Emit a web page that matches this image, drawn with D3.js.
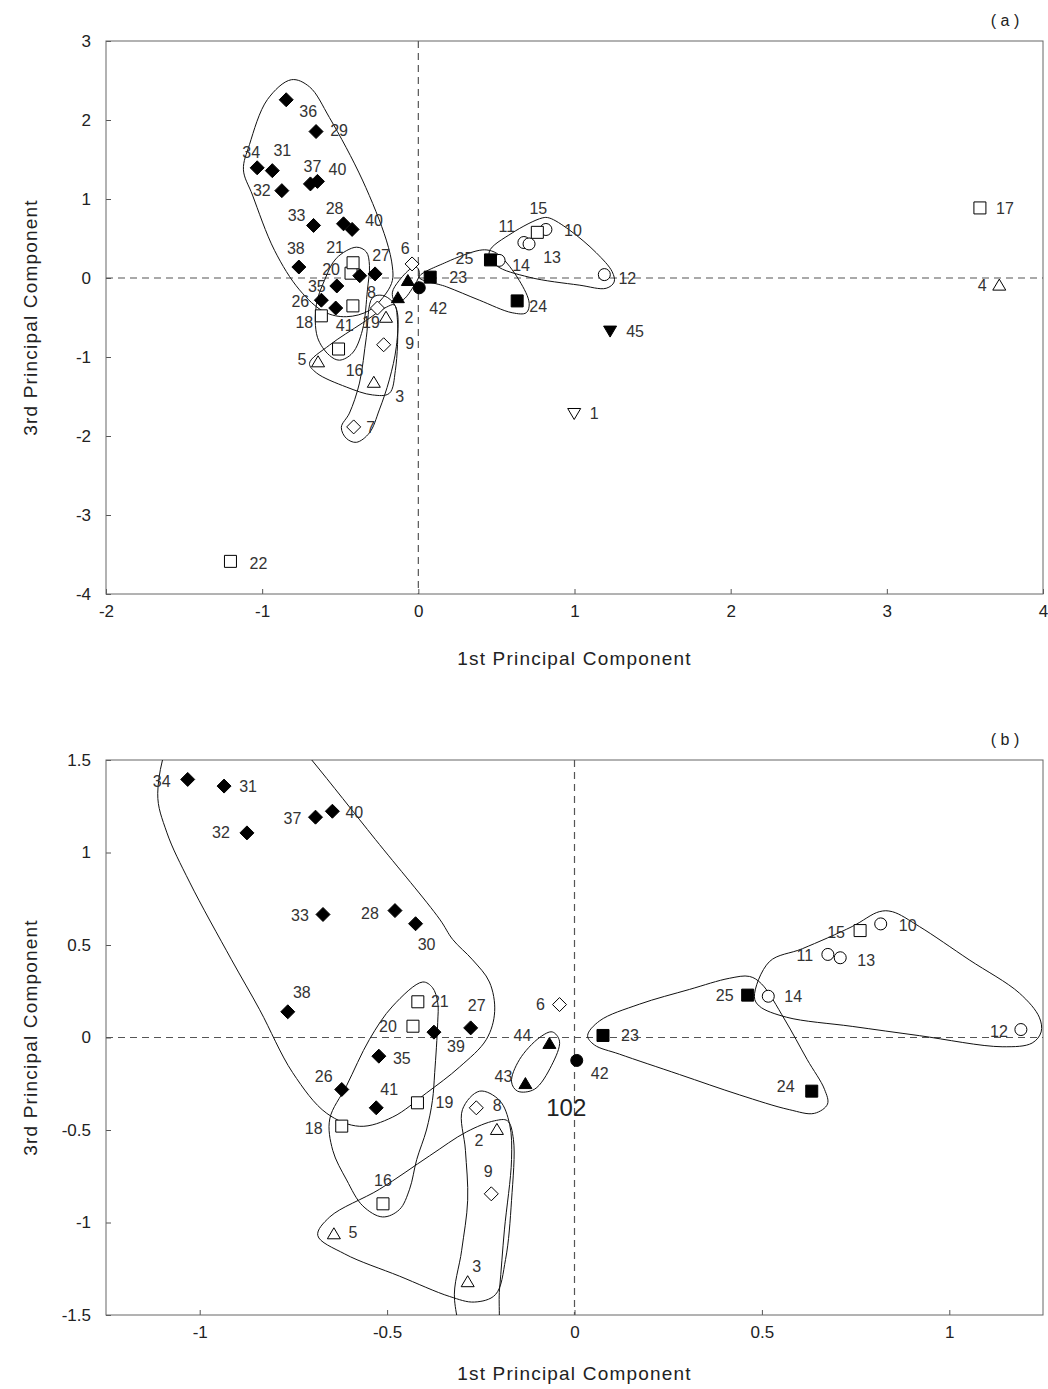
<!DOCTYPE html>
<html>
<head>
<meta charset="utf-8">
<script src="https://cdn.jsdelivr.net/npm/d3@7"></script>
<style>
  body { margin: 0; background: #fff; }
  svg { display: block; font-family: Arial, "Liberation Sans", sans-serif; }
</style>
</head>
<body>
<div id="chart"></div>
<script>
// sample ids, scores on the 1st and 3rd principal components, marker type
var ids = [1, 2, 3, 4, 5, 6, 7, 8, 9, 10, 11, 12, 13, 14, 15, 16, 17, 18, 19, 20, 21, 22, 23,
  24, 25, 26, 27, 28, 29, 30, 31, 32, 33, 34, 35, 36, 37, 38, 39, 40, 41, 42, 43, 44, 45];
var pc1 = [0.998, -0.207, -0.285, 3.72, -0.642, -0.04, -0.414, -0.262, -0.222, 0.817, 0.676, 1.191,
  0.709, 0.517, 0.762, -0.511, 3.596, -0.621, -0.419, -0.431, -0.418, -1.203, 0.076, 0.633, 0.462,
  -0.621, -0.277, -0.479, -0.655, -0.424, -0.935, -0.874, -0.671, -1.032, -0.522, -0.846, -0.691,
  -0.765, -0.375, -0.646, -0.529, 0.006, -0.131, -0.067, 1.228];
var pc3 = [-1.715, -0.497, -1.32, -0.09, -1.061, 0.178, -1.885, -0.38, -0.845, 0.614, 0.449, 0.043,
  0.431, 0.223, 0.578, -0.899, 0.887, -0.479, -0.353, 0.061, 0.193, -3.587, 0.011, -0.29, 0.229,
  -0.281, 0.052, 0.686, 1.854, 0.615, 1.359, 1.106, 0.665, 1.395, -0.101, 2.256, 1.191, 0.139,
  0.029, 1.223, -0.38, -0.124, -0.249, -0.032, -0.672];
// d = diamond, s = square, t = triangle, v = down triangle, c = circle; F filled, O open
var markers = ["vO", "tO", "tO", "tO", "tO", "dO", "dO", "dO", "dO", "cO", "cO", "cO", "cO", "cO",
  "sO", "sO", "sO", "sO", "sO", "sO", "sO", "sO", "sF", "sF", "sF", "dF", "dF", "dF", "dF", "dF",
  "dF", "dF", "dF", "dF", "dF", "dF", "dF", "dF", "dF", "dF", "dF", "cF", "tF", "tF", "vF"];

// which samples each panel shows
var idsA = ids;
var idsB = [2, 3, 5, 6, 8, 9, 10, 11, 12, 13, 14, 15, 16, 18, 19, 20, 21, 23, 24, 25, 26, 27, 28,
  30, 31, 32, 33, 34, 35, 37, 38, 39, 40, 41, 42, 43, 44];

// tick values
var xTicksA = [-2, -1, 0, 1, 2, 3, 4];
var yTicksA = [-4, -3, -2, -1, 0, 1, 2, 3];
var xTicksB = [-1, -0.5, 0, 0.5, 1];
var yTicksB = [-1.5, -1, -0.5, 0, 0.5, 1, 1.5];

// point labels: [id, text]
var labelsA = [[36, "36"], [29, "29"], [34, "34"], [31, "31"], [37, "37"], [40, "40"], [32, "32"],
  [33, "33"], [28, "28"], [30, "40"], [38, "38"], [21, "21"], [20, "20"], [27, "27"], [6, "6"],
  [35, "35"], [26, "26"], [41, "41"], [18, "18"], [19, "19"], [8, "8"], [2, "2"], [9, "9"],
  [5, "5"], [16, "16"], [3, "3"], [7, "7"], [42, "42"], [23, "23"], [25, "25"], [14, "14"],
  [24, "24"], [11, "11"], [13, "13"], [15, "15"], [10, "10"], [12, "12"], [45, "45"], [1, "1"],
  [17, "17"], [4, "4"], [22, "22"]];
var labelsB = [[34, "34"], [31, "31"], [32, "32"], [37, "37"], [40, "40"], [33, "33"], [28, "28"],
  [30, "30"], [38, "38"], [21, "21"], [20, "20"], [39, "39"], [27, "27"], [35, "35"], [26, "26"],
  [41, "41"], [19, "19"], [18, "18"], [6, "6"], [44, "44"], [43, "43"], [42, "42"], [23, "23"],
  [8, "8"], [2, "2"], [9, "9"], [16, "16"], [5, "5"], [3, "3"], [15, "15"], [10, "10"], [11, "11"],
  [13, "13"], [14, "14"], [25, "25"], [12, "12"], [24, "24"]];

// label offsets in pixels from the marker (layout only)
var offA = {36: [22, 12], 29: [23, -1], 34: [-6, -15], 31: [10, -20], 37: [2, -18], 40: [20, -12],
  32: [-20, 0], 33: [-17, -10], 28: [-9, -15], 30: [22, -9], 38: [-3, -19], 21: [-18, -15],
  20: [-20, -4], 27: [6, -18], 6: [-7, -16], 35: [-20, 0], 26: [-21, 1], 41: [9, 17], 18: [-17, 7],
  19: [18, 17], 8: [-6, -16], 2: [23, 0], 9: [26, -1], 5: [-16, -2], 16: [16, 21], 3: [26, 14],
  7: [17, 0], 42: [19, 21], 23: [28, 0], 25: [-26, -2], 14: [22, 5], 24: [21, 5], 11: [-17, -16],
  13: [23, 13], 15: [1, -24], 10: [27, 1], 12: [23, 4], 45: [25, 0], 1: [20, 0], 17: [25, 0],
  4: [-17, 0], 22: [28, 2]};
var offB = {34: [-26, 2], 31: [24, 0], 32: [-26, 0], 37: [-23, 1], 40: [22, 1], 33: [-23, 1],
  28: [-25, 3], 30: [11, 21], 38: [14, -19], 21: [22, 0], 20: [-25, 0], 39: [22, 14], 27: [6, -22],
  35: [23, 2], 26: [-18, -13], 41: [13, -18], 19: [27, 0], 18: [-28, 2], 6: [-19, 0], 44: [-27, -8],
  43: [-22, -7], 42: [23, 13], 23: [27, 0], 8: [21, -2], 2: [-18, 11], 9: [-3, -22], 16: [0, -23],
  5: [19, -1], 3: [9, -15], 15: [-24, 2], 10: [27, 1], 11: [-23, 1], 13: [26, 3], 14: [25, 0],
  25: [-23, 0], 12: [-22, 2], 24: [-26, -5]};

// hand drawn group outlines, in data units
var groupsA = [
  [[-0.813, 2.51], [-0.697, 2.42], [-0.569, 2.03], [-0.358, 1.24], [-0.205, 0.48], [-0.166, 0.14],
   [-0.166, -0.03], [-0.205, -0.19], [-0.313, -0.41], [-0.461, -0.49], [-0.601, -0.43],
   [-0.761, -0.15], [-0.921, 0.35], [-1.062, 1.05], [-1.12, 1.37], [-1.081, 1.69], [-0.966, 2.26]],
  [[-0.397, 0.39], [-0.525, 0.25], [-0.601, -0.03], [-0.653, -0.34], [-0.646, -0.75], [-0.569, -0.98],
   [-0.505, -1.04], [-0.422, -0.95], [-0.358, -0.66], [-0.326, -0.15], [-0.313, 0.16], [-0.333, 0.33]],
  [[-0.697, -1.08], [-0.569, -0.85], [-0.358, -0.57], [-0.205, -0.37], [-0.154, -0.34], [-0.134, -0.53],
   [-0.147, -1.17], [-0.186, -1.46], [-0.294, -1.48], [-0.461, -1.38], [-0.653, -1.2]],
  [[-0.23, -0.22], [-0.294, -0.25], [-0.333, -0.75], [-0.377, -1.33], [-0.441, -1.71], [-0.493, -1.89],
   [-0.461, -2.03], [-0.397, -2.08], [-0.313, -1.96], [-0.25, -1.67], [-0.186, -1.29], [-0.141, -0.87],
   [-0.134, -0.44], [-0.166, -0.3]],
  [[-0.154, -0.28], [-0.166, -0.18], [-0.122, -0.03], [-0.038, 0.13], [-0.006, 0.13], [0.006, 0.04],
   [-0.038, -0.13], [-0.102, -0.28]],
  [[0.006, 0.01], [0.179, 0.2], [0.39, 0.35], [0.454, 0.35], [0.518, 0.29], [0.646, -0.03], [0.71, -0.32],
   [0.691, -0.44], [0.601, -0.44], [0.39, -0.28], [0.179, -0.11]],
  [[0.454, 0.33], [0.601, 0.57], [0.793, 0.76], [0.838, 0.76], [0.966, 0.61], [1.139, 0.32], [1.241, 0.08],
   [1.254, -0.05], [1.203, -0.13], [1.03, -0.09], [0.71, 0.01], [0.499, 0.16]]
];
var groupsB = [
  [[-0.96, 1.83], [-1.067, 1.66], [-1.112, 1.32], [-1.088, 1.11], [-1.027, 0.84], [-0.915, 0.42],
   [-0.84, 0.15], [-0.752, -0.19], [-0.661, -0.41], [-0.573, -0.48], [-0.485, -0.43], [-0.395, -0.3],
   [-0.307, -0.16], [-0.235, -0.01], [-0.213, 0.14], [-0.227, 0.3], [-0.272, 0.42], [-0.325, 0.53],
   [-0.36, 0.64], [-0.531, 1.07], [-0.701, 1.5], [-0.813, 1.77]],
  [[-0.405, 0.3], [-0.485, 0.17], [-0.547, -0.01], [-0.608, -0.26], [-0.653, -0.44], [-0.645, -0.61],
   [-0.608, -0.77], [-0.565, -0.91], [-0.512, -0.97], [-0.467, -0.93], [-0.44, -0.82], [-0.421, -0.66],
   [-0.395, -0.5], [-0.379, -0.34], [-0.373, -0.19], [-0.365, 0.08], [-0.365, 0.19], [-0.379, 0.27]],
  [[-0.685, -1.07], [-0.653, -0.97], [-0.52, -0.82], [-0.387, -0.64], [-0.288, -0.51], [-0.213, -0.45],
   [-0.179, -0.45], [-0.163, -0.55], [-0.168, -0.88], [-0.184, -1.2], [-0.211, -1.39], [-0.267, -1.43],
   [-0.333, -1.4], [-0.467, -1.29], [-0.613, -1.17]],
  [[-0.299, -0.39], [-0.253, -0.29], [-0.2, -0.34], [-0.173, -0.47], [-0.168, -0.66], [-0.187, -1.04],
   [-0.2, -1.36], [-0.213, -1.63], [-0.28, -1.66], [-0.32, -1.42], [-0.301, -1.15], [-0.285, -0.88],
   [-0.291, -0.61]],
  [[-0.059, 0.03], [-0.04, -0.02], [-0.061, -0.15], [-0.107, -0.28], [-0.152, -0.29], [-0.168, -0.24],
   [-0.147, -0.12], [-0.093, 0.0]],
  [[0.035, 0.01], [0.067, 0.09], [0.173, 0.18], [0.307, 0.26], [0.413, 0.32], [0.467, 0.33], [0.499, 0.29],
   [0.56, 0.1], [0.621, -0.12], [0.667, -0.28], [0.675, -0.36], [0.64, -0.41], [0.573, -0.39],
   [0.44, -0.31], [0.28, -0.2], [0.12, -0.09], [0.053, -0.04]],
  [[0.48, 0.22], [0.52, 0.41], [0.608, 0.48], [0.741, 0.6], [0.813, 0.68], [0.848, 0.68], [0.92, 0.6],
   [1.053, 0.42], [1.187, 0.24], [1.24, 0.11], [1.245, 0.03], [1.221, -0.03], [1.141, -0.05],
   [0.92, 0.01], [0.741, 0.06], [0.565, 0.11], [0.493, 0.17]]
];

var width = 1048, height = 1389;
var svg = d3.select("#chart").append("svg")
  .attr("width", width)
  .attr("height", height);

function shapePath(t) {
  var k = t.charAt(0);
  if (k === "d") return "M0,-7L7,0L0,7L-7,0Z";
  if (k === "s") return "M-6,-6H6V6H-6Z";
  if (k === "t") return "M0,-6L6.5,5L-6.5,5Z";
  if (k === "v") return "M0,6L6.5,-5L-6.5,-5Z";
  return "M6,0A6,6 0 1,1 -6,0A6,6 0 1,1 6,0Z";
}

var fmt = function (d) { return String(d); };

function styleAxis(a) {
  a.select(".domain").remove();
  a.selectAll("line").attr("stroke", "#555");
  a.selectAll("text").attr("font-size", 17).attr("fill", "#222")
    .attr("font-family", "Arial, 'Liberation Sans', sans-serif");
}

function drawPanel(cfg) {
  var x = d3.scaleLinear().domain(cfg.xDomain).range([cfg.left, cfg.right]);
  var y = d3.scaleLinear().domain(cfg.yDomain).range([cfg.bottom, cfg.top]);
  var g = svg.append("g");

  g.append("clipPath").attr("id", cfg.name + "-clip")
    .append("rect")
    .attr("x", cfg.left).attr("y", cfg.top)
    .attr("width", cfg.right - cfg.left).attr("height", cfg.bottom - cfg.top);

  // axes with inward ticks
  g.append("g")
    .attr("transform", "translate(0," + cfg.bottom + ")")
    .call(d3.axisBottom(x).tickValues(cfg.xTicks).tickFormat(fmt)
      .tickSizeInner(-5).tickSizeOuter(0).tickPadding(11))
    .call(styleAxis);
  g.append("g")
    .attr("transform", "translate(" + cfg.left + ",0)")
    .call(d3.axisLeft(y).tickValues(cfg.yTicks).tickFormat(fmt)
      .tickSizeInner(-5).tickSizeOuter(0).tickPadding(15))
    .call(styleAxis);

  // frame
  g.append("rect")
    .attr("x", cfg.left).attr("y", cfg.top)
    .attr("width", cfg.right - cfg.left).attr("height", cfg.bottom - cfg.top)
    .attr("fill", "none").attr("stroke", "#666").attr("stroke-width", 1);

  // zero lines
  g.append("line")
    .attr("x1", x(0)).attr("x2", x(0)).attr("y1", cfg.top).attr("y2", cfg.bottom)
    .attr("stroke", "#555").attr("stroke-dasharray", "7,5").attr("stroke-width", 1.2);
  g.append("line")
    .attr("x1", cfg.left).attr("x2", cfg.right).attr("y1", y(0)).attr("y2", y(0))
    .attr("stroke", "#555").attr("stroke-dasharray", "7,5").attr("stroke-width", 1.2);

  // group outlines
  var outline = d3.line()
    .x(function (d) { return x(d[0]); })
    .y(function (d) { return y(d[1]); })
    .curve(d3.curveCatmullRomClosed.alpha(0.5));
  g.append("g").attr("clip-path", "url(#" + cfg.name + "-clip)")
    .selectAll("path").data(cfg.groups).enter().append("path")
    .attr("d", outline)
    .attr("fill", "none").attr("stroke", "#111").attr("stroke-width", 1);

  // markers
  var pts = cfg.ids.map(function (id) {
    var i = ids.indexOf(id);
    return { id: id, x: pc1[i], y: pc3[i], m: markers[i] };
  });
  g.append("g").selectAll("path").data(pts).enter().append("path")
    .attr("transform", function (d) { return "translate(" + x(d.x) + "," + y(d.y) + ")"; })
    .attr("d", function (d) { return shapePath(d.m); })
    .attr("fill", function (d) { return d.m.charAt(1) === "F" ? "#000" : "#fff"; })
    .attr("stroke", "#000").attr("stroke-width", 1);

  // labels
  g.append("g").selectAll("text").data(cfg.labels).enter().append("text")
    .attr("x", function (d) { var i = ids.indexOf(d[0]); return x(pc1[i]) + cfg.off[d[0]][0]; })
    .attr("y", function (d) { var i = ids.indexOf(d[0]); return y(pc3[i]) + cfg.off[d[0]][1]; })
    .attr("dy", "0.35em")
    .attr("text-anchor", "middle")
    .attr("font-size", 16)
    .attr("fill", "#333")
    .text(function (d) { return d[1]; });

  // titles
  g.append("text")
    .attr("x", (cfg.left + cfg.right) / 2).attr("y", cfg.bottom + cfg.titleGap)
    .attr("text-anchor", "middle").attr("font-size", 19).attr("letter-spacing", 1.2)
    .attr("fill", "#222")
    .text("1st Principal Component");
  g.append("text")
    .attr("transform", "translate(37," + (cfg.top + cfg.bottom) / 2 + ") rotate(-90)")
    .attr("text-anchor", "middle").attr("font-size", 19).attr("letter-spacing", 1.2)
    .attr("fill", "#222")
    .text("3rd Principal Component");
  g.append("text")
    .attr("x", 1005).attr("y", cfg.top - 15)
    .attr("text-anchor", "middle").attr("font-size", 16).attr("fill", "#222")
    .attr("xml:space", "preserve")
    .text(cfg.tag);

  return { x: x, y: y, g: g };
}

drawPanel({
  name: "pa", left: 106, right: 1043, top: 41, bottom: 594, titleGap: 71,
  xDomain: [-2, 4], yDomain: [-4, 3], xTicks: xTicksA, yTicks: yTicksA,
  ids: idsA, labels: labelsA, off: offA, groups: groupsA, tag: "( a )"
});

var pb = drawPanel({
  name: "pb", left: 106, right: 1043, top: 760, bottom: 1315, titleGap: 65,
  xDomain: [-1.25, 1.25], yDomain: [-1.5, 1.5], xTicks: xTicksB, yTicks: yTicksB,
  ids: idsB, labels: labelsB, off: offB, groups: groupsB, tag: "( b )"
});

// stray annotation in panel (b)
pb.g.append("text")
  .attr("x", pb.x(-0.022)).attr("y", pb.y(-0.378))
  .attr("dy", "0.35em").attr("text-anchor", "middle")
  .attr("font-size", 24).attr("fill", "#222")
  .text("102");
</script>
</body>
</html>
